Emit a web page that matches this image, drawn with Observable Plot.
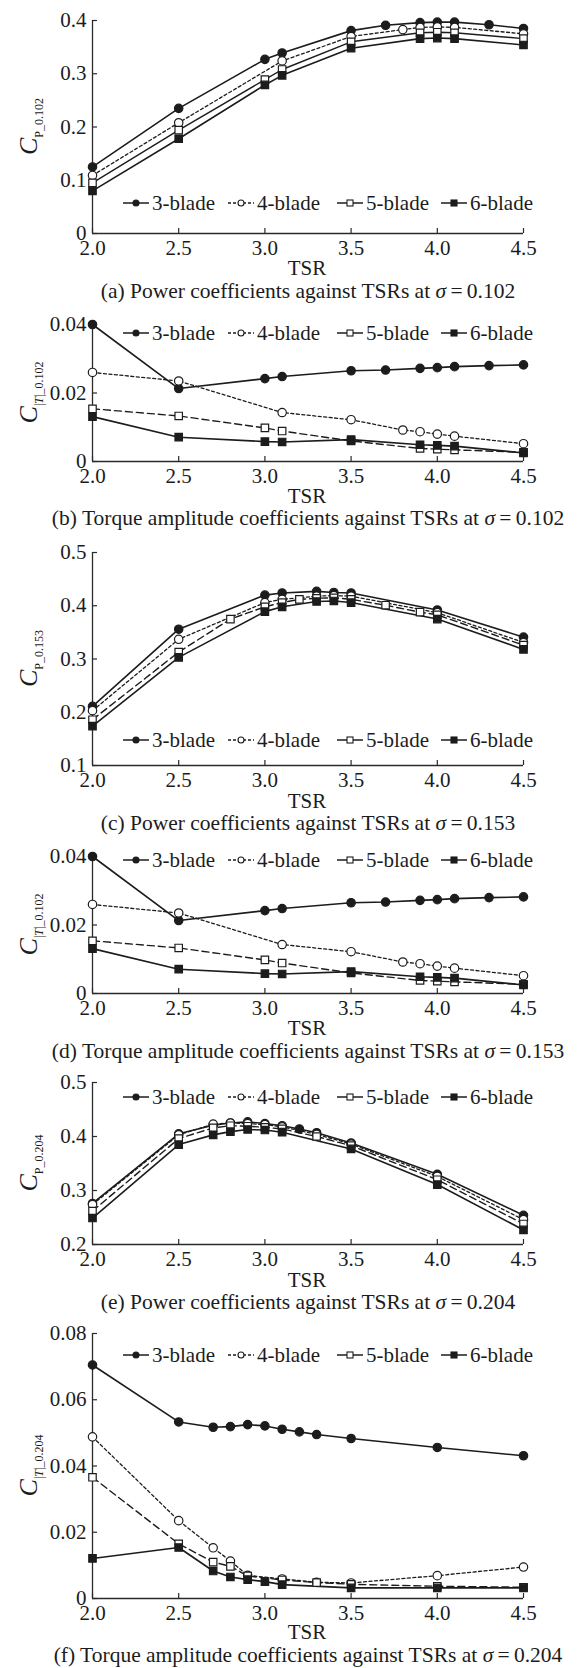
<!DOCTYPE html>
<html><head><meta charset="utf-8">
<script src="https://cdn.jsdelivr.net/npm/d3@7"></script>
<script src="https://cdn.jsdelivr.net/npm/@observablehq/plot@0.6"></script>
<style>
body{margin:0;background:#fff;}
#fig{position:relative;width:578px;height:1668px;overflow:hidden;background:#fff;}
#fig svg{position:absolute;left:0;}
</style></head><body><div id="fig"></div>
<script>
// ---------- data ----------
const xTicks = [2.0, 2.5, 3.0, 3.5, 4.0, 4.5];
const seriesLabels = ["3-blade", "4-blade", "5-blade", "6-blade"];

// (a) Cp, sigma = 0.102
const cpA_3 = [[2.0,0.125],[2.5,0.235],[3.0,0.327],[3.1,0.339],[3.5,0.381],[3.7,0.391],[3.9,0.396],[4.0,0.397],[4.1,0.397],[4.3,0.392],[4.5,0.385]];
const cpA_4 = [[2.0,0.109],[2.5,0.208],[3.1,0.324],[3.5,0.370],[3.8,0.383],[3.9,0.387],[4.0,0.388],[4.1,0.387],[4.5,0.375]];
const cpA_5 = [[2.0,0.095],[2.5,0.194],[3.0,0.289],[3.1,0.308],[3.5,0.360],[3.9,0.377],[4.0,0.378],[4.1,0.377],[4.5,0.366]];
const cpA_6 = [[2.0,0.080],[2.5,0.178],[3.0,0.279],[3.1,0.297],[3.5,0.348],[3.9,0.366],[4.0,0.367],[4.1,0.366],[4.5,0.354]];

// (b) and (d) torque amplitude (same curves)
const ct102_3 = [[2.0,0.0400],[2.5,0.0213],[3.0,0.0242],[3.1,0.0248],[3.5,0.0265],[3.7,0.0267],[3.9,0.0272],[4.0,0.0274],[4.1,0.0277],[4.3,0.0280],[4.5,0.0282]];
const ct102_4 = [[2.0,0.0260],[2.5,0.0235],[3.1,0.0143],[3.5,0.0122],[3.8,0.0092],[3.9,0.0087],[4.0,0.0080],[4.1,0.0074],[4.5,0.0052]];
const ct102_5 = [[2.0,0.0154],[2.5,0.0133],[3.0,0.0098],[3.1,0.0089],[3.5,0.0060],[3.9,0.0038],[4.0,0.0036],[4.1,0.0034],[4.5,0.0027]];
const ct102_6 = [[2.0,0.0131],[2.5,0.0071],[3.0,0.0058],[3.1,0.0057],[3.5,0.0064],[3.9,0.0049],[4.0,0.0047],[4.1,0.0045],[4.5,0.0025]];

// (c) Cp, sigma = 0.153
const cpC_3 = [[2.0,0.211],[2.5,0.356],[3.0,0.420],[3.1,0.424],[3.3,0.427],[3.4,0.425],[3.5,0.424],[4.0,0.392],[4.5,0.341]];
const cpC_4 = [[2.0,0.203],[2.5,0.337],[3.0,0.406],[3.1,0.412],[3.3,0.418],[3.4,0.419],[3.5,0.418],[4.0,0.387],[4.5,0.331]];
const cpC_5 = [[2.0,0.186],[2.5,0.313],[2.8,0.375],[3.0,0.398],[3.1,0.406],[3.2,0.412],[3.3,0.414],[3.4,0.415],[3.5,0.412],[3.7,0.401],[3.9,0.388],[4.0,0.383],[4.5,0.326]];
const cpC_6 = [[2.0,0.174],[2.5,0.303],[3.0,0.389],[3.1,0.398],[3.3,0.408],[3.4,0.409],[3.5,0.406],[4.0,0.375],[4.5,0.318]];

// (e) Cp, sigma = 0.204
const cpE_3 = [[2.0,0.276],[2.5,0.405],[2.7,0.421],[2.8,0.425],[2.9,0.427],[3.0,0.424],[3.1,0.420],[3.2,0.414],[3.3,0.407],[3.5,0.388],[4.0,0.330],[4.5,0.254]];
const cpE_4 = [[2.0,0.274],[2.5,0.403],[2.7,0.423],[2.8,0.425],[2.9,0.424],[3.0,0.422],[3.1,0.418],[3.3,0.404],[3.5,0.386],[4.0,0.326],[4.5,0.246]];
const cpE_5 = [[2.0,0.262],[2.5,0.396],[2.7,0.416],[2.8,0.420],[2.9,0.419],[3.0,0.417],[3.1,0.414],[3.3,0.400],[3.5,0.383],[4.0,0.320],[4.5,0.238]];
const cpE_6 = [[2.0,0.249],[2.5,0.385],[2.7,0.403],[2.8,0.409],[2.9,0.413],[3.0,0.412],[3.1,0.408],[3.5,0.377],[4.0,0.311],[4.5,0.227]];

// (f) torque amplitude, sigma = 0.204
const ctF_3 = [[2.0,0.0705],[2.5,0.0533],[2.7,0.0517],[2.8,0.0519],[2.9,0.0525],[3.0,0.0521],[3.1,0.0511],[3.2,0.0503],[3.3,0.0495],[3.5,0.0483],[4.0,0.0456],[4.5,0.0431]];
const ctF_4 = [[2.0,0.0488],[2.5,0.0235],[2.7,0.0153],[2.8,0.0113],[2.9,0.0070],[3.1,0.0059],[3.3,0.0049],[3.5,0.0047],[4.0,0.0069],[4.5,0.0095]];
const ctF_5 = [[2.0,0.0366],[2.5,0.0165],[2.7,0.0110],[2.8,0.0097],[2.9,0.0068],[3.1,0.0056],[3.3,0.0048],[3.5,0.0043],[4.0,0.0037],[4.5,0.0034]];
const ctF_6 = [[2.0,0.0121],[2.5,0.0154],[2.7,0.0083],[2.8,0.0065],[2.9,0.0057],[3.0,0.0051],[3.1,0.0042],[3.5,0.0032],[4.0,0.0032],[4.5,0.0032]];

const ticksCpA = [0, 0.1, 0.2, 0.3, 0.4];
const ticksCpC = [0.1, 0.2, 0.3, 0.4, 0.5];
const ticksCpE = [0.2, 0.3, 0.4, 0.5];
const ticksCt102 = [0, 0.02, 0.04];
const ticksCtF = [0, 0.02, 0.04, 0.06, 0.08];

const captions = [
  ["(a) Power coefficients against TSRs at ", "0.102"],
  ["(b) Torque amplitude coefficients against TSRs at ", "0.102"],
  ["(c) Power coefficients against TSRs at ", "0.153"],
  ["(d) Torque amplitude coefficients against TSRs at ", "0.153"],
  ["(e) Power coefficients against TSRs at ", "0.204"],
  ["(f) Torque amplitude coefficients against TSRs at ", "0.204"]
];
const yLabels = [
  ["P", null, "_0.102"], ["|", "T", "|_0.102"], ["P", null, "_0.153"],
  ["|", "T", "|_0.102"], ["P", null, "_0.204"], ["|", "T", "|_0.204"]
];

// ---------- styling / layout ----------
const INK = "#1c1c1c", AX = "#2a2a2a";
const FONT = "Liberation Serif, Times New Roman, serif";
const styles = [
  {symbol: "circle", fill: INK, dash: null, sw: 1.6},
  {symbol: "circle", fill: "white", dash: "3,2.5", sw: 1.3},
  {symbol: "square", fill: "white", dash: "7,4", sw: 1.4},
  {symbol: "square", fill: INK, dash: null, sw: 1.6}
];
const f1 = d => d === 0 ? "0" : d.toFixed(1);
const f2 = d => d === 0 ? "0" : d.toFixed(2);

const panels = [
  {series: [cpA_3, cpA_4, cpA_5, cpA_6], yDomain: [0, 0.4], yTicks: ticksCpA, fmt: f1, top: 20, bottom: 233, legendY: 203, tsrY: 268, capY: 290, solid5: true},
  {series: [ct102_3, ct102_4, ct102_5, ct102_6], yDomain: [0, 0.04], yTicks: ticksCt102, fmt: f2, top: 324, bottom: 461, legendY: 333, tsrY: 496, capY: 517},
  {series: [cpC_3, cpC_4, cpC_5, cpC_6], yDomain: [0.1, 0.5], yTicks: ticksCpC, fmt: f1, top: 552, bottom: 765, legendY: 740, tsrY: 801, capY: 822},
  {series: [ct102_3, ct102_4, ct102_5, ct102_6], yDomain: [0, 0.04], yTicks: ticksCt102, fmt: f2, top: 856, bottom: 993, legendY: 860, tsrY: 1028, capY: 1050},
  {series: [cpE_3, cpE_4, cpE_5, cpE_6], yDomain: [0.2, 0.5], yTicks: ticksCpE, fmt: f1, top: 1082, bottom: 1244, legendY: 1097, tsrY: 1280, capY: 1301},
  {series: [ctF_3, ctF_4, ctF_5, ctF_6], yDomain: [0, 0.08], yTicks: ticksCtF, fmt: f2, top: 1333, bottom: 1598, legendY: 1355, tsrY: 1632, capY: 1654}
];

const W = 578, ML = 92, MR = 55, MT = 12, MB = 32;
const fig = document.getElementById("fig");

panels.forEach((p, pi) => {
  const plotH = p.bottom - p.top, plotW = W - ML - MR;
  const lineMarks = p.series.map((s, i) => Plot.line(s, {
    x: d => d[0], y: d => d[1], stroke: INK, strokeWidth: styles[i].sw,
    strokeDasharray: (i === 2 && p.solid5) ? null : styles[i].dash
  }));
  const dotMarks = p.series.map((s, i) => Plot.dot(s, {
    x: d => d[0], y: d => d[1], symbol: styles[i].symbol, r: 4.2,
    fill: styles[i].fill, stroke: INK, strokeWidth: 1.2
  }));
  const chart = Plot.plot({
    width: W, height: plotH + MT + MB,
    marginLeft: ML, marginRight: MR, marginTop: MT, marginBottom: MB,
    style: {fontSize: "21px", fontFamily: FONT, color: INK, background: "transparent", overflow: "visible"},
    x: {domain: [2, 4.5], ticks: xTicks, tickSize: 0, tickPadding: 7, tickFormat: d => d.toFixed(1), label: null},
    y: {domain: p.yDomain, ticks: p.yTicks, tickSize: 0, tickPadding: 6, tickFormat: p.fmt, label: null},
    marks: [
      Plot.ruleX([2.0], {stroke: AX, strokeWidth: 1.3}),
      Plot.ruleY([p.yDomain[0]], {stroke: AX, strokeWidth: 1.3}),
      Plot.tickX(xTicks, {x: d => d, stroke: AX, strokeWidth: 1.2, insetTop: plotH - 5}),
      Plot.tickY(p.yTicks, {y: d => d, stroke: AX, strokeWidth: 1.2, insetRight: plotW - 5}),
      ...lineMarks,
      ...dotMarks
    ]
  });
  chart.style.top = (p.top - MT) + "px";
  fig.appendChild(chart);
});

// ---------- overlay: labels, legends, captions ----------
const ov = d3.select(fig).append("svg")
  .attr("width", W).attr("height", 1668)
  .style("top", "0px").style("pointer-events", "none")
  .attr("font-family", FONT).attr("fill", INK);

const legendX = [123, 228, 337, 441];
panels.forEach((p, pi) => {
  // legend
  const lg = ov.append("g").attr("transform", `translate(0,${p.legendY})`);
  styles.forEach((st, i) => {
    const x0 = legendX[i];
    lg.append("line").attr("x1", x0).attr("x2", x0 + 26).attr("y1", 0).attr("y2", 0)
      .attr("stroke", INK).attr("stroke-width", 1.5)
      .attr("stroke-dasharray", i === 1 ? "3,2" : null);
    if (st.symbol === "circle") {
      lg.append("circle").attr("cx", x0 + 13).attr("cy", 0).attr("r", 3)
        .attr("fill", st.fill).attr("stroke", INK).attr("stroke-width", 1.1);
    } else {
      lg.append("rect").attr("x", x0 + 10).attr("y", -3).attr("width", 6).attr("height", 6)
        .attr("fill", st.fill).attr("stroke", INK).attr("stroke-width", 1.1);
    }
    lg.append("text").attr("x", x0 + 29).attr("y", 0).attr("dy", "0.35em")
      .attr("font-size", 21).text(seriesLabels[i]);
  });
  // x label
  ov.append("text").attr("x", 307).attr("y", p.tsrY).attr("dy", "0.35em")
    .attr("text-anchor", "middle").attr("font-size", 21).text("TSR");
  // caption
  const cap = ov.append("text").attr("x", 308).attr("y", p.capY).attr("dy", "0.35em")
    .attr("text-anchor", "middle").attr("font-size", 21.5);
  cap.append("tspan").text(captions[pi][0]);
  cap.append("tspan").attr("font-style", "italic").text("σ");
  cap.append("tspan").text("\u2009=\u2009" + captions[pi][1]);
  // y label
  const yl = ov.append("text")
    .attr("transform", `translate(37,${(p.top + p.bottom) / 2}) rotate(-90)`)
    .attr("text-anchor", "middle");
  yl.append("tspan").attr("font-style", "italic").attr("font-size", 26).text("C");
  const [a, b, c] = yLabels[pi];
  yl.append("tspan").attr("font-size", 12).attr("dy", 6).text(a);
  if (b) yl.append("tspan").attr("font-size", 12).attr("font-style", "italic").text(b);
  yl.append("tspan").attr("font-size", 12).text(c);
});
</script></body></html>
